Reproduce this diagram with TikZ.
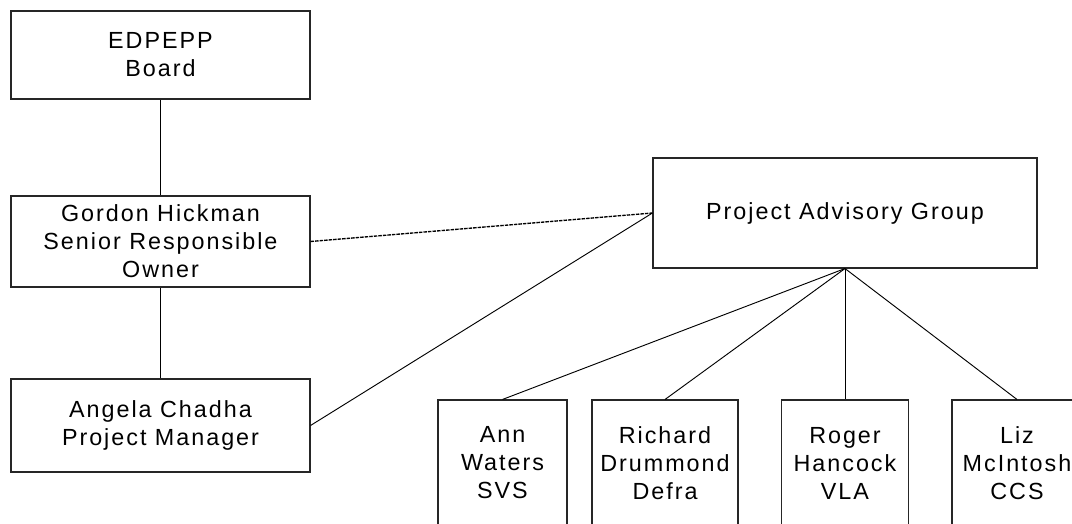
\documentclass[tikz,border=0pt]{standalone}
\usepackage{fontspec}
\setmainfont{Liberation Sans}[LetterSpace=8.5]
\begin{document}
\begin{tikzpicture}[x=0.75pt,y=-0.75pt,
  box/.style={draw=black!85, line width=0.8pt, inner sep=0pt, align=center,
    font=\fontsize{17.5}{21}\selectfont},
  conn/.style={draw=black, line width=0.7pt},
  dashconn/.style={draw=black, line width=1pt, dash pattern=on 2.6pt off 0.8pt}]
\clip (0,0) rectangle (1072,524);
\fill[white] (0,0) rectangle (1072,524);
\node[box, minimum width=299*0.75pt, minimum height=88*0.75pt] (board) at (160.5,55) {EDPEPP\\Board};
\node[box, minimum width=299*0.75pt, minimum height=91*0.75pt] (gordon) at (160.5,241.5) {Gordon Hickman\\Senior Responsible\\Owner};
\node[box, minimum width=299*0.75pt, minimum height=93*0.75pt] (angela) at (160.5,425.5) {Angela Chadha\\Project Manager};
\node[box, minimum width=384*0.75pt, minimum height=110*0.75pt] (pag) at (845,213) {Project Advisory Group};
\node[box, minimum width=129*0.75pt, minimum height=126*0.75pt] (ann) at (502.5,463) {Ann\\Waters\\SVS};
\node[box, minimum width=146*0.75pt, minimum height=126*0.75pt] (richard) at (665,463) {Richard\\Drummond\\Defra};
\node[box, minimum width=127*0.75pt, minimum height=126*0.75pt] (roger) at (845,463) {Roger\\Hancock\\VLA};
\node[box, minimum width=130*0.75pt, minimum height=126*0.75pt] (liz) at (1017,463) {Liz\\McIntosh\\CCS};
\draw[conn] (board.south) -- (gordon.north);
\draw[conn] (gordon.south) -- (angela.north);
\draw[dashconn] (gordon.east) -- (pag.west);
\draw[conn] (angela.east) -- (pag.west);
\draw[conn] (pag.south) -- (ann.north);
\draw[conn] (pag.south) -- (richard.north);
\draw[conn] (pag.south) -- (roger.north);
\draw[conn] (pag.south) -- (liz.north);
\end{tikzpicture}
\end{document}
